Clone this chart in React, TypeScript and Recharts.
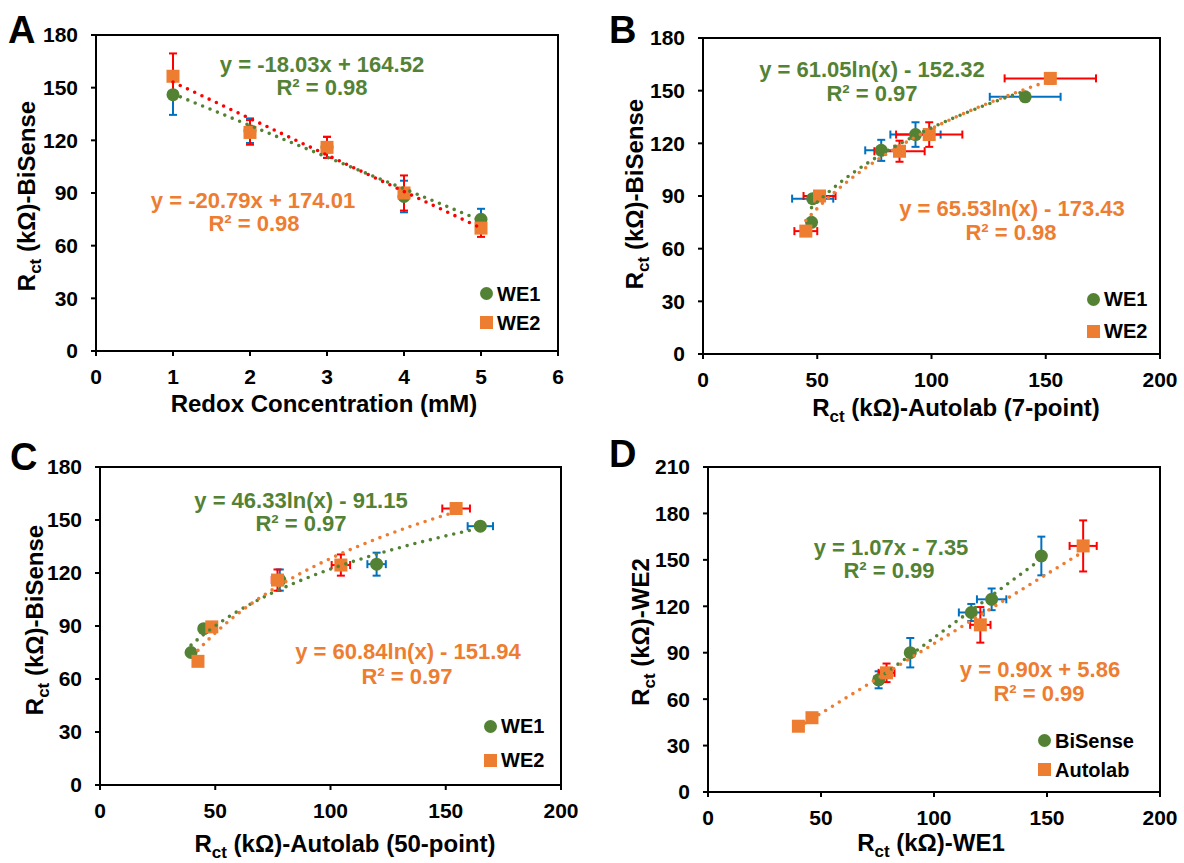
import React from 'react';
import { ScatterChart, Scatter, XAxis, YAxis, ErrorBar, ReferenceArea, Legend } from 'recharts';

const FONT = '"Liberation Sans", Arial, Helvetica, sans-serif';
const GREEN = '#548235';
const ORANGE = '#ED7D31';
const BLUE = '#0070C0';
const RED = '#FF0000';

// ---------- Panel A: Redox concentration vs BiSense ----------
const concA = [1, 2, 3, 4, 5];
const aWE1 = [146, 125.5, 116, 88, 75];
const aWE1Err = [11.5, 7, 6, 9, 6];
const aWE2 = [156.5, 124.5, 116, 90, 70];
const aWE2Err = [13, 7, 6, 10, 5];
const aTicksX = [0, 1, 2, 3, 4, 5, 6];

// ---------- Panel B: Autolab 7-point vs BiSense ----------
const bWE1x = [47.5, 48, 78, 93, 141];
const bWE1y = [75, 88.5, 116, 125, 146.5];
const bWE1ex = [0, 9, 7, 11, 15.5];
const bWE1ey = [0, 0, 6, 7, 0];
const bWE2x = [45, 51, 86, 99, 152];
const bWE2y = [70, 90, 115.5, 125, 157];
const bWE2ex = [5, 7, 11, 14.5, 20];
const bWE2ey = [0, 0, 6, 7, 3];

// ---------- Panel C: Autolab 50-point vs BiSense ----------
const cWE1x = [39.5, 45, 78, 120, 165];
const cWE1y = [75, 88.5, 116, 125, 146.5];
const cWE1ex = [0, 0, 0, 4, 5.5];
const cWE1ey = [0, 0, 6, 6.5, 0];
const cWE2x = [42.5, 48.5, 77, 104.5, 154.5];
const cWE2y = [70, 89.5, 116, 124.5, 156.5];
const cWE2ex = [0, 0, 2.5, 4, 6];
const cWE2ey = [0, 0, 6, 6, 0];

// ---------- Panel D: WE1 vs WE2 ----------
const dBiX = [75.5, 89.5, 116.5, 125.5, 147.5];
const dBiY = [72.5, 90, 116, 124.5, 152.5];
const dBiEx = [2, 0, 5.5, 6.5, 0];
const dBiEy = [5.5, 9.5, 5.5, 7, 12.5];
const dAuX = [40, 46, 79, 120.5, 166];
const dAuY = [42.5, 48, 77, 108, 159];
const dAuEx = [0, 0, 3.5, 4.5, 6];
const dAuEy = [0, 0, 6, 11.5, 16.5];

const ticks200 = [0, 50, 100, 150, 200];
const ticks180 = [0, 30, 60, 90, 120, 150, 180];
const ticks210 = [0, 30, 60, 90, 120, 150, 180, 210];

// trendline coefficients (as printed on the chart)
const trendA1 = { m: -18.03, b: 164.52 };
const trendA2 = { m: -20.79, b: 174.01 };
const trendB1 = { a: 61.05, b: -152.32 };
const trendB2 = { a: 65.53, b: -173.43 };
const trendC1 = { a: 46.33, b: -91.15 };
const trendC2 = { a: 60.84, b: -151.94 };
const trendD1 = { m: 1.07, b: -7.35 };
const trendD2 = { m: 0.9, b: 5.86 };

const pts = (xs: number[], ys: number[], ex: number[], ey: number[]) =>
  xs.map((x, i) => ({ x, y: ys[i], ex: ex[i], ey: ey[i] }));

const linTrend = (xs: number[], t: { m: number; b: number }) => {
  const lo = Math.min(...xs);
  const hi = Math.max(...xs);
  return [lo, hi].map((x) => ({ x, y: t.m * x + t.b }));
};
const logTrend = (xs: number[], t: { a: number; b: number }) => {
  const lo = Math.min(...xs);
  const hi = Math.max(...xs);
  const n = 40;
  const out: { x: number; y: number }[] = [];
  for (let i = 0; i <= n; i++) {
    const x = lo + ((hi - lo) * i) / n;
    out.push({ x, y: t.a * Math.log(x) + t.b });
  }
  return out;
};

const circleShape = (color: string) => (p: any) => (
  <circle cx={p.cx} cy={p.cy} r={6.5} fill={color} />
);
const squareShape = (color: string) => (p: any) => (
  <rect x={p.cx - 6.5} y={p.cy - 6.5} width={13} height={13} fill={color} />
);
const noShape = () => <g />;

const dotLine = (color: string) => ({
  stroke: color,
  strokeWidth: 3.6,
  strokeDasharray: '0 8',
  strokeLinecap: 'round' as const,
  fill: 'none',
});

const tickStyle = { fill: '#000', fontSize: 21, fontWeight: 'bold' as const, fontFamily: FONT };
const axisLine = { stroke: '#000', strokeWidth: 2 };

const makeLegend = (rowH: number, order: string[]) => (props: any) => {
  const items = (props.payload || [])
    .filter((p: any) => p.type !== 'none')
    .slice()
    .sort((a: any, b: any) => order.indexOf(a.value) - order.indexOf(b.value));
  return (
    <div style={{ fontFamily: FONT, fontWeight: 'bold', fontSize: 20, color: '#000', lineHeight: 1 }}>
      {items.map((p: any) => (
        <div key={p.value} style={{ display: 'flex', alignItems: 'center', height: rowH }}>
          <svg width={13} height={13} style={{ marginRight: 4, display: 'block' }}>
            {p.type === 'circle' ? (
              <circle cx={6.5} cy={6.5} r={6.5} fill={p.color} />
            ) : (
              <rect width={13} height={13} fill={p.color} />
            )}
          </svg>
          <span>{p.value}</span>
        </div>
      ))}
    </div>
  );
};

type Series = {
  name: string;
  data: any[];
  color: string;
  errColor: string;
  kind: 'circle' | 'square';
  xErr: boolean;
};

type PanelProps = {
  left: number;
  top: number;
  width: number;
  height: number;
  margin: { top: number; right: number; bottom: number; left: number };
  yW: number;
  xH: number;
  xDomain: [number, number];
  xTicks: number[];
  yDomain: [number, number];
  yTicks: number[];
  series: Series[];
  trends: { data: any[]; color: string }[];
  legend: { left: number; top: number; rowH: number };
};

function Panel(p: PanelProps) {
  const order = p.series.map((s) => s.name);
  return (
    <div style={{ position: 'absolute', left: p.left, top: p.top }}>
      <ScatterChart width={p.width} height={p.height} margin={p.margin}>
        <XAxis
          type="number"
          dataKey="x"
          domain={p.xDomain}
          ticks={p.xTicks}
          allowDataOverflow
          height={p.xH}
          axisLine={axisLine}
          tickLine={axisLine}
          tickSize={5}
          tickMargin={13}
          tick={tickStyle}
          interval={0}
        />
        <YAxis
          type="number"
          dataKey="y"
          domain={p.yDomain}
          ticks={p.yTicks}
          allowDataOverflow
          width={p.yW}
          axisLine={axisLine}
          tickLine={axisLine}
          tickSize={5}
          tickMargin={13}
          tick={tickStyle}
          interval={0}
        />
        <ReferenceArea
          x1={p.xDomain[0]}
          x2={p.xDomain[1]}
          y1={p.yDomain[0]}
          y2={p.yDomain[1]}
          fill="none"
          fillOpacity={0}
          stroke="#000"
          strokeWidth={2}
          ifOverflow="visible"
        />
        {p.series.map((s) => (
          <Scatter
            key={s.name}
            name={s.name}
            data={s.data}
            fill={s.color}
            legendType={s.kind}
            shape={s.kind === 'circle' ? circleShape(s.color) : squareShape(s.color)}
            isAnimationActive={false}
          >
            <ErrorBar dataKey="ey" direction="y" stroke={s.errColor} strokeWidth={2} width={4} />
            {s.xErr ? (
              <ErrorBar dataKey="ex" direction="x" stroke={s.errColor} strokeWidth={2} width={4} />
            ) : null}
          </Scatter>
        ))}
        {p.trends.map((t, i) => (
          <Scatter
            key={'t' + i}
            name={'trend' + i}
            data={t.data}
            line={dotLine(t.color)}
            shape={noShape}
            legendType="none"
            isAnimationActive={false}
          />
        ))}
        <Legend
          layout="vertical"
          align="center"
          verticalAlign="middle"
          content={makeLegend(p.legend.rowH, order)}
          wrapperStyle={{ position: 'absolute', left: p.legend.left, top: p.legend.top, width: 'auto', height: 'auto' }}
        />
      </ScatterChart>
    </div>
  );
}

const Title = ({ x, y, rest, rotate, plain }: { x: number; y: number; rest: string; rotate?: boolean; plain?: boolean }) => (
  <text
    x={x}
    y={y}
    textAnchor="middle"
    fontFamily={FONT}
    fontWeight="bold"
    fontSize={24}
    fill="#000"
    transform={rotate ? `rotate(-90 ${x} ${y})` : undefined}
  >
    {plain ? (
      rest
    ) : (
      <>
        <tspan>R</tspan>
        <tspan fontSize={17} dy={6}>ct</tspan>
        <tspan dy={-6}>{rest}</tspan>
      </>
    )}
  </text>
);

const Eq = ({ x, y, color, children }: { x: number; y: number; color: string; children: React.ReactNode }) => (
  <text x={x} y={y} textAnchor="middle" fontFamily={FONT} fontWeight="bold" fontSize={22} fill={color}>
    {children}
  </text>
);

const Letter = ({ x, y, t }: { x: number; y: number; t: string }) => (
  <text x={x} y={y} fontFamily={FONT} fontWeight="bold" fontSize={38} fill="#000">
    {t}
  </text>
);

export default function App() {
  const aS: Series[] = [
    { name: 'WE1', data: pts(concA, aWE1, concA.map(() => 0), aWE1Err), color: GREEN, errColor: BLUE, kind: 'circle', xErr: false },
    { name: 'WE2', data: pts(concA, aWE2, concA.map(() => 0), aWE2Err), color: ORANGE, errColor: RED, kind: 'square', xErr: false },
  ];
  const bS: Series[] = [
    { name: 'WE1', data: pts(bWE1x, bWE1y, bWE1ex, bWE1ey), color: GREEN, errColor: BLUE, kind: 'circle', xErr: true },
    { name: 'WE2', data: pts(bWE2x, bWE2y, bWE2ex, bWE2ey), color: ORANGE, errColor: RED, kind: 'square', xErr: true },
  ];
  const cS: Series[] = [
    { name: 'WE1', data: pts(cWE1x, cWE1y, cWE1ex, cWE1ey), color: GREEN, errColor: BLUE, kind: 'circle', xErr: true },
    { name: 'WE2', data: pts(cWE2x, cWE2y, cWE2ex, cWE2ey), color: ORANGE, errColor: RED, kind: 'square', xErr: true },
  ];
  const dS: Series[] = [
    { name: 'BiSense', data: pts(dBiX, dBiY, dBiEx, dBiEy), color: GREEN, errColor: BLUE, kind: 'circle', xErr: true },
    { name: 'Autolab', data: pts(dAuX, dAuY, dAuEx, dAuEy), color: ORANGE, errColor: RED, kind: 'square', xErr: true },
  ];

  return (
    <div style={{ position: 'absolute', left: 0, top: 0, width: 1184, height: 863, background: '#fff', overflow: 'hidden' }}>
      <Panel
        left={0}
        top={0}
        width={592}
        height={420}
        margin={{ top: 35, right: 34, bottom: 0, left: 0 }}
        yW={96}
        xH={69}
        xDomain={[0, 6]}
        xTicks={aTicksX}
        yDomain={[0, 180]}
        yTicks={ticks180}
        series={aS}
        trends={[
          { data: linTrend(concA, trendA1), color: GREEN },
          { data: linTrend(concA, trendA2), color: RED },
        ]}
        legend={{ left: 480, top: 279, rowH: 29 }}
      />
      <Panel
        left={592}
        top={0}
        width={592}
        height={420}
        margin={{ top: 38, right: 24, bottom: 0, left: 0 }}
        yW={111}
        xH={66}
        xDomain={[0, 200]}
        xTicks={ticks200}
        yDomain={[0, 180]}
        yTicks={ticks180}
        series={bS}
        trends={[
          { data: logTrend(bWE1x, trendB1), color: GREEN },
          { data: logTrend(bWE2x, trendB2), color: ORANGE },
        ]}
        legend={{ left: 495, top: 283, rowH: 32 }}
      />
      <Panel
        left={0}
        top={420}
        width={592}
        height={443}
        margin={{ top: 47, right: 31, bottom: 0, left: 0 }}
        yW={100}
        xH={78}
        xDomain={[0, 200]}
        xTicks={ticks200}
        yDomain={[0, 180]}
        yTicks={ticks180}
        series={cS}
        trends={[
          { data: logTrend(cWE1x, trendC1), color: GREEN },
          { data: logTrend(cWE2x, trendC2), color: ORANGE },
        ]}
        legend={{ left: 484, top: 289, rowH: 34 }}
      />
      <Panel
        left={592}
        top={420}
        width={592}
        height={443}
        margin={{ top: 47, right: 24, bottom: 0, left: 0 }}
        yW={116}
        xH={71}
        xDomain={[0, 200]}
        xTicks={ticks200}
        yDomain={[0, 210]}
        yTicks={ticks210}
        series={dS}
        trends={[
          { data: linTrend(dBiX, trendD1), color: GREEN },
          { data: linTrend(dAuX, trendD2), color: ORANGE },
        ]}
        legend={{ left: 446, top: 306, rowH: 29 }}
      />
      <svg width={1184} height={863} style={{ position: 'absolute', left: 0, top: 0, pointerEvents: 'none' }}>
        <Letter x={8} y={43} t="A" />
        <Letter x={609} y={43} t="B" />
        <Letter x={10} y={470} t="C" />
        <Letter x={609} y={467} t="D" />

        <Title x={324} y={412} rest="Redox Concentration (mM)" plain />
        <Title x={35} y={196} rest=" (kΩ)-BiSense" rotate />
        <Title x={956} y={416} rest=" (kΩ)-Autolab (7-point)" />
        <Title x={643} y={194} rest=" (kΩ)-BiSense" rotate />
        <Title x={345} y={852} rest=" (kΩ)-Autolab (50-point)" />
        <Title x={43} y={620} rest=" (kΩ)-BiSense" rotate />
        <Title x={931} y={851} rest=" (kΩ)-WE1" />
        <Title x={649} y={632} rest=" (kΩ)-WE2" rotate />

        <Eq x={322} y={72} color={GREEN}>y = -18.03x + 164.52</Eq>
        <Eq x={322} y={95} color={GREEN}>R² = 0.98</Eq>
        <Eq x={253} y={208} color={ORANGE}>y = -20.79x + 174.01</Eq>
        <Eq x={254} y={231} color={ORANGE}>R² = 0.98</Eq>

        <Eq x={872} y={77} color={GREEN}>y = 61.05ln(x) - 152.32</Eq>
        <Eq x={872} y={101} color={GREEN}>R² = 0.97</Eq>
        <Eq x={1012} y={216} color={ORANGE}>y = 65.53ln(x) - 173.43</Eq>
        <Eq x={1011} y={240} color={ORANGE}>R² = 0.98</Eq>

        <Eq x={301} y={508} color={GREEN}>y = 46.33ln(x) - 91.15</Eq>
        <Eq x={301} y={531} color={GREEN}>R² = 0.97</Eq>
        <Eq x={408} y={659} color={ORANGE}>y = 60.84ln(x) - 151.94</Eq>
        <Eq x={407} y={684} color={ORANGE}>R² = 0.97</Eq>

        <Eq x={891} y={555} color={GREEN}>y = 1.07x - 7.35</Eq>
        <Eq x={889} y={578} color={GREEN}>R² = 0.99</Eq>
        <Eq x={1040} y={677} color={ORANGE}>y = 0.90x + 5.86</Eq>
        <Eq x={1039} y={701} color={ORANGE}>R² = 0.99</Eq>
      </svg>
    </div>
  );
}
